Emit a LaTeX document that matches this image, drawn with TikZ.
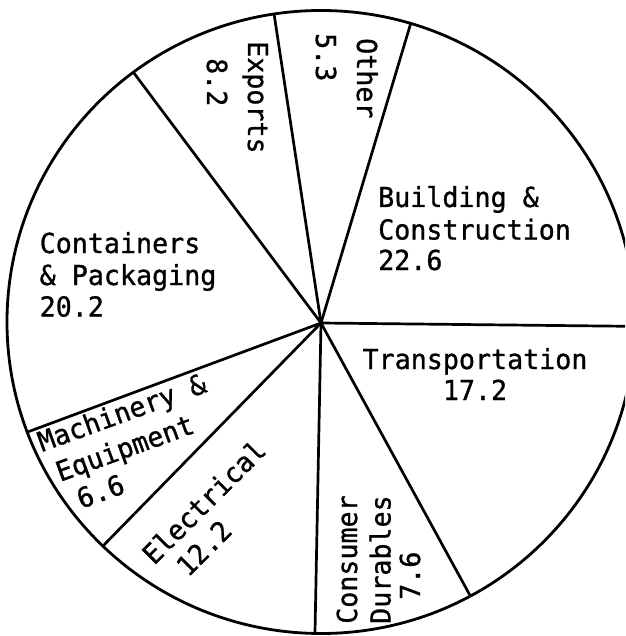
\documentclass[tikz,border=0pt]{standalone}
\usepackage{fontspec}
\newfontfamily\tw[FakeStretch=0.97,FakeBold=1]{DejaVu Sans Mono}
\usetikzlibrary{calc}
\begin{document}
\begin{tikzpicture}[x=1pt,y=-1pt,
  lbl/.style={font=\tw\fontsize{27.5}{31}\selectfont, inner sep=0pt, anchor=base west},
  rim/.style={line width=2.8pt},
  spoke/.style={line width=2.7pt}]
\useasboundingbox (0,0) rectangle (625,636);
\clip (0,0) rectangle (625,636);
\coordinate (O) at (321,323);
\coordinate (C0) at (321,322);
\draw[rim] (C0) ellipse [x radius=314pt, y radius=311.5pt];
\foreach \n/\t in {A/359.2, B/73.4, C/98.6, D/126.7, E/200.7, F/226.0, G/268.9, H/298.4}
  \coordinate (\n) at ($(C0)+({314*cos(\t)},{-311.5*sin(\t)})$);
\foreach \n in {A,B,C,D,E,F,G,H}
  \draw[spoke] (O) -- (\n);
\node[lbl] (bld1) at (378,207) {Building \&};
\node[lbl] (bld2) at (378,239.5) {Construction};
\node[lbl] (bld3) at (378,270) {22.6};
\node[lbl] (con1) at (39.5,253) {Containers};
\node[lbl] (con2) at (39.5,285) {\& Packaging};
\node[lbl] (con3) at (39.5,316.5) {20.2};
\node[lbl, anchor=base] (tra1) at (475,369) {Transportation};
\node[lbl, anchor=base] (tra2) at (475,400) {17.2};
\node[lbl, rotate=-90] (exp1) at (248,41) {Exports};
\node[lbl, rotate=-90] (exp2) at (207,58) {8.2};
\node[lbl, rotate=-90] (oth1) at (357,38) {Other};
\node[lbl, rotate=-90] (oth2) at (316,33) {5.3};
\node[lbl, rotate=90] (cd1) at (357,624) {Consumer};
\node[lbl, rotate=90] (cd2) at (390.5,624) {Durables};
\node[lbl, rotate=90] (cd3) at (420,600) {7.6};
\node[lbl, rotate=45] (el1) at (154,566) {Electrical};
\node[lbl, rotate=45] (el2) at (188,578) {12.2};
\node[lbl, rotate=20] (me1) at (42,452) {Machinery \&};
\node[lbl, rotate=20] (me2) at (60,482) {Equipment};
\node[lbl, rotate=20] (me3) at (81,509) {6.6};
\end{tikzpicture}
\end{document}
